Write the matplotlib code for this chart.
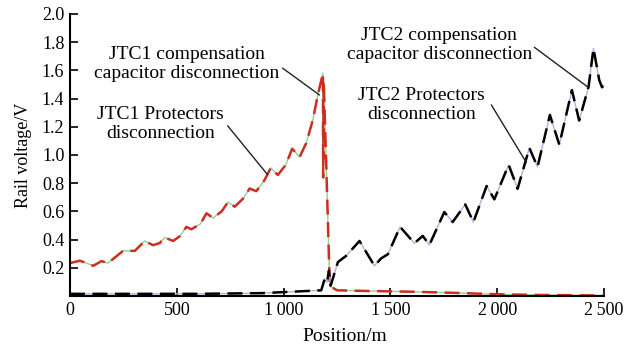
import matplotlib
matplotlib.use('Agg')
import matplotlib.pyplot as plt

plt.rcParams['font.family'] = ['Liberation Serif', 'DejaVu Serif']

# JTC1 curve (red dashed over green)
x1 = [0, 47, 109, 148, 178, 249, 304, 350, 389, 420, 444, 483, 515, 545, 568, 610, 639, 670, 710, 740,
      771, 810, 841, 872, 910, 940, 973, 1010, 1040, 1075, 1106, 1137, 1160, 1184, 1185, 1188, 1216,
      1250, 1400, 1600, 1800, 2000, 2200, 2500]
y1 = [0.233, 0.25, 0.214, 0.247, 0.233, 0.32, 0.32, 0.39, 0.36, 0.375, 0.414, 0.39, 0.425, 0.49, 0.473,
      0.51, 0.586, 0.553, 0.6, 0.666, 0.633, 0.69, 0.762, 0.743, 0.82, 0.908, 0.858, 0.93, 1.044, 0.986,
      1.085, 1.25, 1.425, 1.58, 0.84, 1.52, 0.07, 0.04, 0.035, 0.03, 0.022, 0.012, 0.007, 0.003]

# JTC2 curve (black dashed over light blue)
x2 = [0, 300, 600, 900, 1176, 1192, 1203, 1212, 1220, 1254, 1293, 1355, 1425, 1456, 1488, 1545, 1612,
      1651, 1682, 1752, 1791, 1850, 1888, 1950, 1986, 2053, 2095, 2150, 2188, 2246, 2290, 2349, 2383,
      2427, 2450, 2477, 2490, 2500]
y2 = [0.015, 0.015, 0.015, 0.02, 0.04, 0.12, 0.097, 0.18, 0.073, 0.24, 0.285, 0.39, 0.214, 0.266, 0.296,
      0.49, 0.374, 0.426, 0.362, 0.595, 0.524, 0.649, 0.524, 0.78, 0.685, 0.93, 0.76, 1.05, 0.915, 1.284,
      1.073, 1.46, 1.244, 1.484, 1.755, 1.53, 1.48, 1.496]

xticks = [0, 500, 1000, 1500, 2000, 2500]
xticklabels = ['0', '500', '1\u2009000', '1\u2009500', '2\u2009000', '2\u2009500']
yticks = [0.2, 0.4, 0.6, 0.8, 1.0, 1.2, 1.4, 1.6, 1.8, 2.0]

fig = plt.figure(figsize=(6.3, 3.49), dpi=100)
ax = fig.add_axes([0.111, 0.152, 0.848, 0.808])

ax.plot(x1, y1, color='#8fd08f', lw=1.0)
ax.plot(x1, y1, color='#cc2e22', lw=1.8, dashes=(6, 3))
ax.plot(x2, y2, color='#a9b4e0', lw=1.0)
ax.plot(x2, y2, color='black', lw=1.8, dashes=(6, 3))

ax.set_xlim(0, 2500)
ax.set_ylim(0, 2.0)
ax.set_xticks(xticks)
ax.set_xticklabels(xticklabels)
ax.set_yticks(yticks)
ax.set_yticklabels([f'{v:.1f}' for v in yticks])
ax.tick_params(direction='in', length=6, width=1.2, labelsize=13, pad=4)
for s in ['top', 'right']:
    ax.spines[s].set_visible(False)
for s in ['left', 'bottom']:
    ax.spines[s].set_linewidth(1.5)

ax.set_xlabel('Position/m', fontsize=14)
ax.xaxis.set_label_coords(0.515, -0.115)
ax.set_ylabel('Rail voltage/V', fontsize=13, labelpad=7)

tk = dict(fontsize=14, ha='center', va='center', linespacing=1.1)
ln = dict(arrowstyle='-', color='#222222', lw=1.0, shrinkA=0, shrinkB=0)

ax.text(548, 1.645, 'JTC1 compensation\ncapacitor disconnection', **tk)
ax.annotate('', xy=(1168, 1.425), xytext=(995, 1.616), arrowprops=ln)
ax.text(425, 1.22, 'JTC1 Protectors\ndisconnection', **tk)
ax.annotate('', xy=(925, 0.86), xytext=(738, 1.207), arrowprops=ln)
ax.text(1729, 1.78, 'JTC2 compensation\ncapacitor disconnection', **tk)
ax.annotate('', xy=(2425, 1.48), xytext=(2173, 1.764), arrowprops=ln)
ax.text(1645, 1.355, 'JTC2 Protectors\ndisconnection', **tk)
ax.annotate('', xy=(2136, 0.946), xytext=(1972, 1.355), arrowprops=ln)

fig.savefig('out.png', dpi=100)
